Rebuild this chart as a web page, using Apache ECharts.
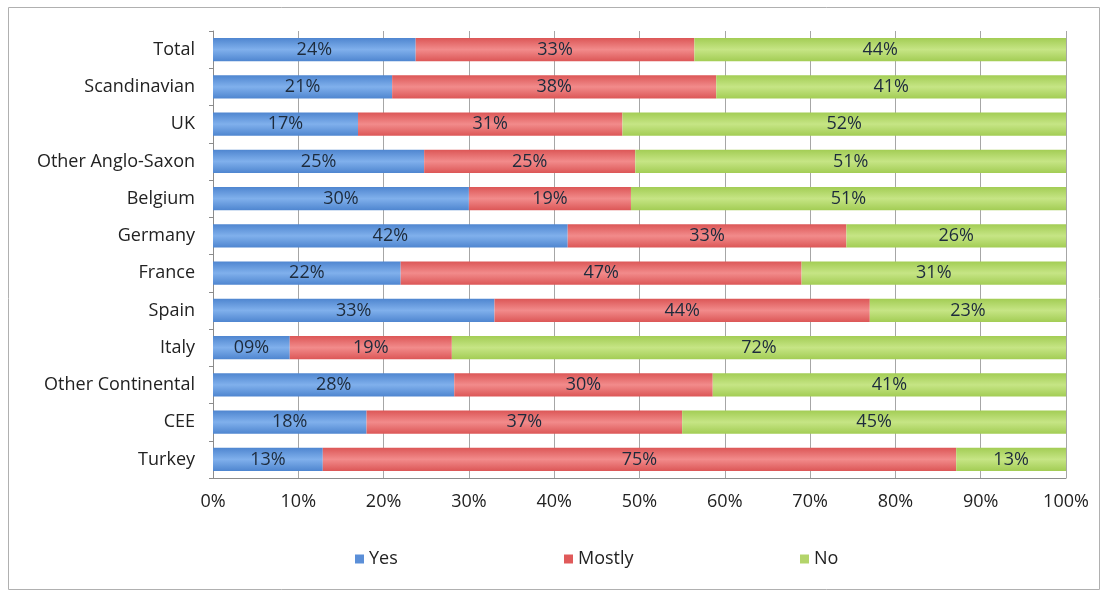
<!DOCTYPE html>
<html><head><meta charset="utf-8">
<script src="https://cdn.jsdelivr.net/npm/echarts@6/dist/echarts.min.js"></script>
<style>html,body{margin:0;padding:0;background:#fff}#c{width:1109px;height:592px}</style>
</head><body><div id="c"></div>
<script>
const categories = ['Total','Scandinavian','UK','Other Anglo-Saxon','Belgium','Germany','France','Spain','Italy','Other Continental','CEE','Turkey'];
const yesValues    = [24,21,17,25,30,42,22,33, 9,28,18,13];
const mostlyValues = [33,38,31,25,19,33,47,44,19,30,37,75];
const noValues     = [44,41,52,51,51,26,31,23,72,41,45,13];
const tickLabels = ['0%','10%','20%','30%','40%','50%','60%','70%','80%','90%','100%'];
const seriesNames = ['Yes','Mostly','No'];

const totals = categories.map((c,i)=>yesValues[i]+mostlyValues[i]+noValues[i]);
const share = arr => arr.map((v,i)=>({value: v/totals[i]*100, raw: v}));

const FONT = 'Open Sans';
function grad(c1,c2){
  return new echarts.graphic.LinearGradient(0,0,0,1,[
    {offset:0,color:c1},{offset:0.5,color:c2},{offset:1,color:c1}]);
}
const colors = [grad('#4f86d0','#80b0ec'), grad('#dc5757','#f28b8b'), grad('#a3cd55','#c6e585')];
const legendColors = ['#5b8fd8','#e05a5a','#b3d46a'];
const raws = [yesValues, mostlyValues, noValues];

const chart = echarts.init(document.getElementById('c'));
chart.setOption({
  animation:false,
  textStyle:{fontFamily:FONT},
  graphic:[{type:'rect',shape:{x:8.5,y:7.5,width:1091,height:582},style:{fill:'none',stroke:'#b0b0b0',lineWidth:1},z:-1}],
  grid:{left:213,right:43,top:31,height:447,containLabel:false},
  xAxis:{type:'value',min:0,max:100,interval:10,
    axisLabel:{formatter:(v)=>tickLabels[Math.round(v/10)],color:'#222',fontSize:18,margin:15,fontFamily:FONT},
    axisLine:{show:true,lineStyle:{color:'#8c8c8c'}},
    axisTick:{show:false},
    splitLine:{show:true,lineStyle:{color:'#a6a6a6',width:1}}},
  yAxis:{type:'category',data:categories,inverse:true,
    axisLabel:{color:'#222',fontSize:18,margin:18,fontFamily:FONT},
    axisLine:{show:true,lineStyle:{color:'#8c8c8c'}},
    axisTick:{show:true,length:4,lineStyle:{color:'#8c8c8c'}}},
  legend: seriesNames.map((n,i)=>({
    data:[{name:n,itemStyle:{color:legendColors[i]}}],left:[350,559,795][i],top:545,
    icon:'rect',itemWidth:9,itemHeight:9,itemGap:8,
    textStyle:{fontSize:18,color:'#222',fontFamily:FONT}
  })),
  series: seriesNames.map((n,i)=>({
    name:n,type:'bar',stack:'all',barCategoryGap:'38%',
    data: share(raws[i]),
    itemStyle:{color:colors[i]},
    label:{show:true,position:'inside',fontSize:18,color:'#1d2b3c',fontFamily:FONT,
      formatter:(p)=>String(p.data.raw).padStart(2,'0')+'%'}
  }))
});
</script></body></html>
